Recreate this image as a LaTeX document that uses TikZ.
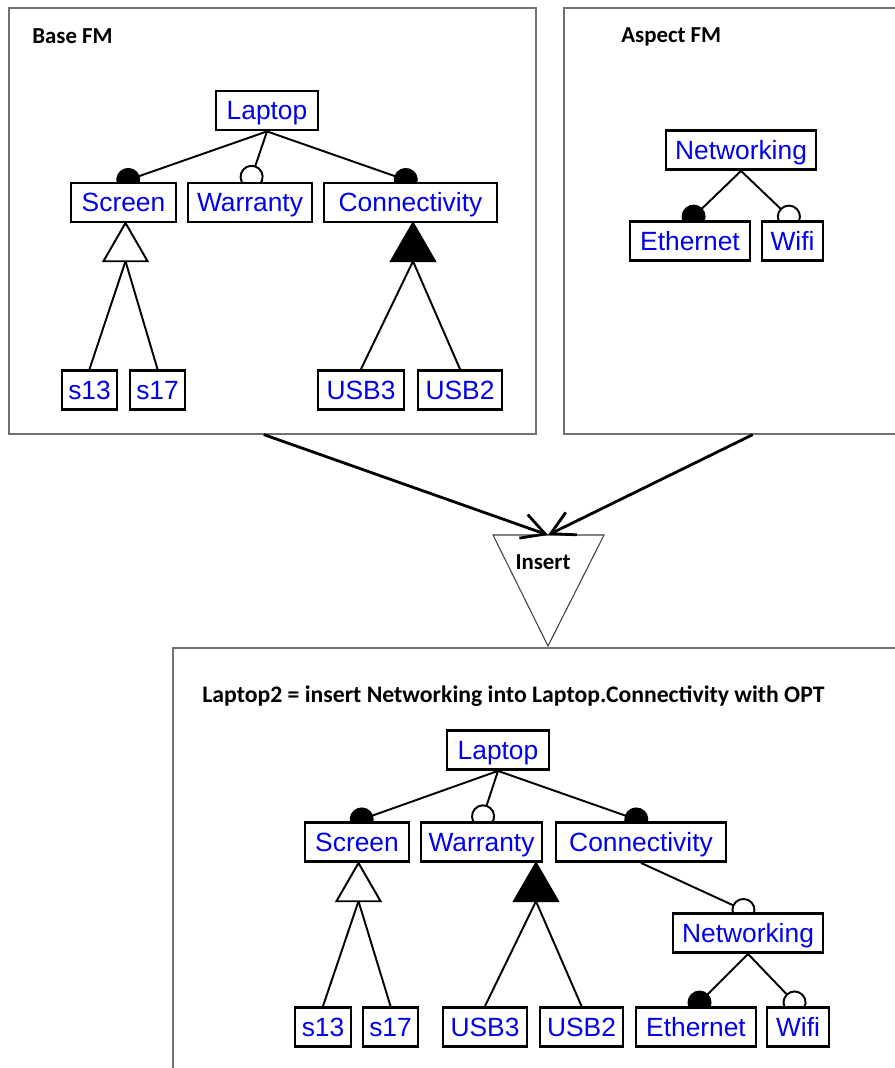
\documentclass[tikz,border=0pt]{standalone}
\usepackage{fontspec}
\setmainfont{Liberation Sans}
\newfontfamily\labelfont{Carlito}
\usetikzlibrary{arrows.meta,positioning,shapes.geometric,backgrounds}
\definecolor{fmblue}{RGB}{0,0,235}
\definecolor{framegray}{RGB}{112,112,112}

\begin{document}
\begin{tikzpicture}[
  every node/.style={font=\fontsize{15}{18}\selectfont},
  feat/.style={draw, line width=1.6pt, fill=white, text=fmblue,
               minimum height=0.78cm, inner xsep=2pt, inner ysep=0pt,
               text height=10.7pt, text depth=0pt},
  title/.style={font=\labelfont\bfseries\fontsize{13}{16}\selectfont, inner sep=0pt},
  frame/.style={draw=framegray, line width=0.9pt, anchor=north west},
  altgrp/.style={draw, regular polygon, regular polygon sides=3, minimum size=1.02cm,
                 inner sep=0pt, outer sep=0pt, anchor=corner 1, line width=1.1pt, fill=white},
  orgrp/.style={altgrp, fill=black},
  edge/.style={line width=1.1pt},
  mand/.style={edge, -{Circle[length=0.48cm]}, shorten >=-0.14cm},
  opt/.style={edge, -{Circle[fill=white, length=0.48cm]}, shorten >=-0.14cm},
  flow/.style={line width=1.6pt, -{Straight Barb[length=0.46cm, width=0.5cm]}}
]
\useasboundingbox (0,0) rectangle (17.9,-21.36);
\clip (0,0) rectangle (17.9,-21.36);

% frames
\node[frame, minimum width=10.54cm, minimum height=8.52cm] (basefm)   at (0.16,-0.14)  {};
\node[frame, minimum width=7.56cm,  minimum height=8.52cm] (aspectfm) at (11.26,-0.14) {};
\node[frame, minimum width=16cm,    minimum height=10cm]   (resultfm) at (3.44,-12.94) {};

\node[title, anchor=base west] (basettl)   at (0.64,-0.87)   {Base FM};
\node[title, anchor=base west] (aspectttl) at (12.42,-0.855) {Aspect FM};
\node[title, anchor=base west, font=\labelfont\bfseries\fontsize{13.5}{16}\selectfont]
  (resultttl) at (4.04,-14.04)
  {Laptop2 = insert Networking into Laptop.Connectivity with OPT};

% base FM
\node[feat, minimum width=2.04cm] (lap1)  at (5.34,-2.21) {Laptop};
\node[feat, minimum width=2.10cm] (scr1)  at (2.47,-4.05) {Screen};
\node[feat, minimum width=2.48cm] (war1)  at (5.00,-4.05) {Warranty};
\node[feat, minimum width=3.46cm] (con1)  at (8.21,-4.05) {Connectivity};
\node[feat, minimum width=1.10cm] (s13a)  at (1.79,-7.80) {s13};
\node[feat, minimum width=1.10cm] (s17a)  at (3.15,-7.80) {s17};
\node[feat, minimum width=1.72cm] (usb3a) at (7.22,-7.80) {USB3};
\node[feat, minimum width=1.68cm] (usb2a) at (9.20,-7.80) {USB2};
\node[altgrp] (alt1) at (2.51,-4.46) {};
\node[orgrp]  (or1)  at (8.26,-4.46) {};

% aspect FM
\node[feat, minimum width=3.00cm] (net1)  at (14.82,-3.00) {Networking};
\node[feat, minimum width=2.40cm] (eth1)  at (13.80,-4.82) {Ethernet};
\node[feat, minimum width=1.22cm] (wifi1) at (15.85,-4.82) {Wifi};

% insert
\coordinate (insTL)  at (9.86,-10.70);
\coordinate (insTR)  at (12.08,-10.70);
\coordinate (insB)   at (10.96,-12.92);
\coordinate (insTop) at (10.96,-10.70);
\draw[draw=black!75, line width=0.6pt, fill=white] (insTL) -- (insTR) -- (insB) -- cycle;
\node[title, anchor=base] (ins) at (10.86,-11.38) {Insert};
\draw[flow] ([xshift=-0.17cm]basefm.south) -- (insTop);
\draw[flow] (aspectfm.south) -- (insTop);

% result FM
\node[feat, minimum width=2.04cm] (lap2)  at (9.96,-15.00)  {Laptop};
\node[feat, minimum width=2.08cm] (scr2)  at (7.14,-16.84)  {Screen};
\node[feat, minimum width=2.42cm] (war2)  at (9.63,-16.84)  {Warranty};
\node[feat, minimum width=3.40cm] (con2)  at (12.82,-16.84) {Connectivity};
\node[feat, minimum width=3.00cm] (net2)  at (14.96,-18.66) {Networking};
\node[feat, minimum width=1.12cm] (s13b)  at (6.46,-20.54)  {s13};
\node[feat, minimum width=1.10cm] (s17b)  at (7.81,-20.54)  {s17};
\node[feat, minimum width=1.68cm] (usb3b) at (9.70,-20.54)  {USB3};
\node[feat, minimum width=1.66cm] (usb2b) at (11.63,-20.54) {USB2};
\node[feat, minimum width=2.40cm] (eth2)  at (13.92,-20.54) {Ethernet};
\node[feat, minimum width=1.24cm] (wifi2) at (15.96,-20.54) {Wifi};
\node[altgrp] (alt2) at (7.17,-17.26)  {};
\node[orgrp]  (or2)  at (10.72,-17.26) {};

\begin{scope}[on background layer]
\draw[mand] (lap1.south) -- (scr1.north);
\draw[opt]  (lap1.south) -- (war1.north);
\draw[mand] (lap1.south) -- (con1.north);
\foreach \kid in {s13a,s17a} \draw[edge] (alt1.side 2) -- (\kid.north);
\foreach \kid in {usb3a,usb2a} \draw[edge] (or1.side 2) -- (\kid.north);
\draw[mand] (net1.south) -- (eth1.north);
\draw[opt]  (net1.south) -- (wifi1.north);

\draw[mand] (lap2.south) -- (scr2.north);
\draw[opt]  (lap2.south) -- (war2.north);
\draw[mand] (lap2.south) -- (con2.north);
\draw[opt]  (con2.south) -- (net2.north);
\foreach \kid in {s13b,s17b} \draw[edge] (alt2.side 2) -- (\kid.north);
\foreach \kid in {usb3b,usb2b} \draw[edge] (or2.side 2) -- (\kid.north);
\draw[mand] (net2.south) -- (eth2.north);
\draw[opt]  (net2.south) -- (wifi2.north);
\end{scope}

\end{tikzpicture}
\end{document}
